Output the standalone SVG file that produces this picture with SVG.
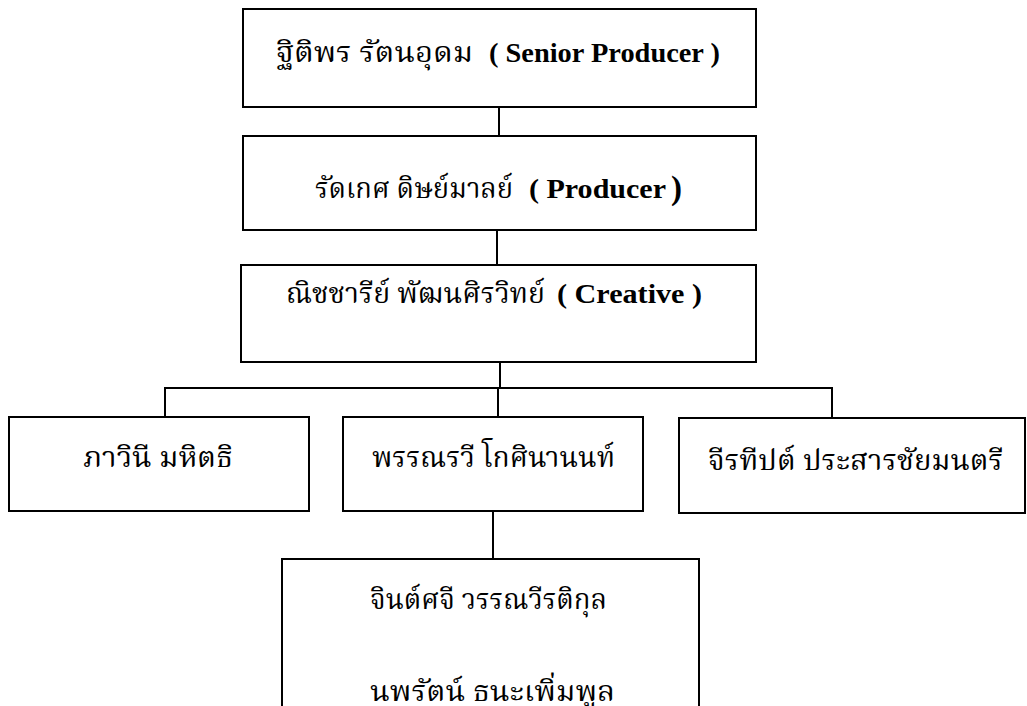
<svg xmlns="http://www.w3.org/2000/svg" width="1027" height="706" viewBox="0 0 1027 706">
<style>
.box{fill:#fff;stroke:#000;stroke-width:2}
.ln{stroke:#000;stroke-width:2;fill:none}
.th{font-family:"Liberation Serif","Noto Serif Thai","Noto Sans Thai",serif;font-size:28px;fill:#000}
.en{font-family:"Liberation Serif",serif;font-size:27px;font-weight:bold;fill:#000}
</style>
<rect width="1027" height="706" fill="#fff"/>
<g id="connectors">
<line class="ln" x1="499" y1="107" x2="499" y2="136"/>
<line class="ln" x1="497" y1="230" x2="497" y2="265"/>
<line class="ln" x1="500" y1="362" x2="500" y2="388"/>
<polyline class="ln" points="165,417 165,388 832,388 832,418"/>
<line class="ln" x1="498" y1="388" x2="498" y2="417"/>
<line class="ln" x1="493" y1="511" x2="493" y2="559"/>
<line class="ln" x1="868" y1="421" x2="868" y2="448"/>
</g>
<g id="n1">
<rect class="box" x="243" y="9" width="513" height="98"/>
<text class="th" x="276" y="62" textLength="197" lengthAdjust="spacingAndGlyphs">ฐิติพร รัตนอุดม</text>
<text class="en" x="489" y="62" textLength="231" lengthAdjust="spacingAndGlyphs">( Senior Producer )</text>
</g>
<g id="n2">
<rect class="box" x="243" y="136" width="513" height="94"/>
<text class="th" x="315" y="198" textLength="198" lengthAdjust="spacingAndGlyphs">รัดเกศ  ดิษย์มาลย์</text>
<text class="en" x="529" y="198" textLength="137" lengthAdjust="spacingAndGlyphs">( Producer</text>
<text class="en" x="671" y="199" style="font-size:33px">)</text>
</g>
<g id="n3">
<rect class="box" x="241" y="265" width="515" height="97"/>
<text class="th" x="286" y="303" textLength="259" lengthAdjust="spacingAndGlyphs">ณิชชารีย์  พัฒนศิรวิทย์</text>
<text class="en" x="557" y="303" textLength="145" lengthAdjust="spacingAndGlyphs" style="font-size:28px">( Creative )</text>
</g>
<g id="n4">
<rect class="box" x="9" y="417" width="300" height="94"/>
<text class="th" x="83" y="467" textLength="150" lengthAdjust="spacingAndGlyphs">ภาวินี  มหิตธิ</text>
</g>
<g id="n5">
<rect class="box" x="343" y="417" width="300" height="94"/>
<text class="th" x="372" y="467" textLength="243" lengthAdjust="spacingAndGlyphs">พรรณรวี โกศินานนท์</text>
</g>
<g id="n6">
<rect class="box" x="679" y="418" width="346" height="95"/>
<text class="th" x="708" y="470" textLength="295" lengthAdjust="spacingAndGlyphs">จีรทีปต์ ประสารชัยมนตรี</text>
</g>
<g id="n7">
<path class="ln" d="M282,706 V559 H699 V706"/>
<text class="th" x="370" y="609" textLength="237" lengthAdjust="spacingAndGlyphs">จินต์ศจี วรรณวีรติกุล</text>
<text class="th" x="370" y="701" textLength="245" lengthAdjust="spacingAndGlyphs">นพรัตน์  ธนะเพิ่มพูล</text>
</g>
</svg>
